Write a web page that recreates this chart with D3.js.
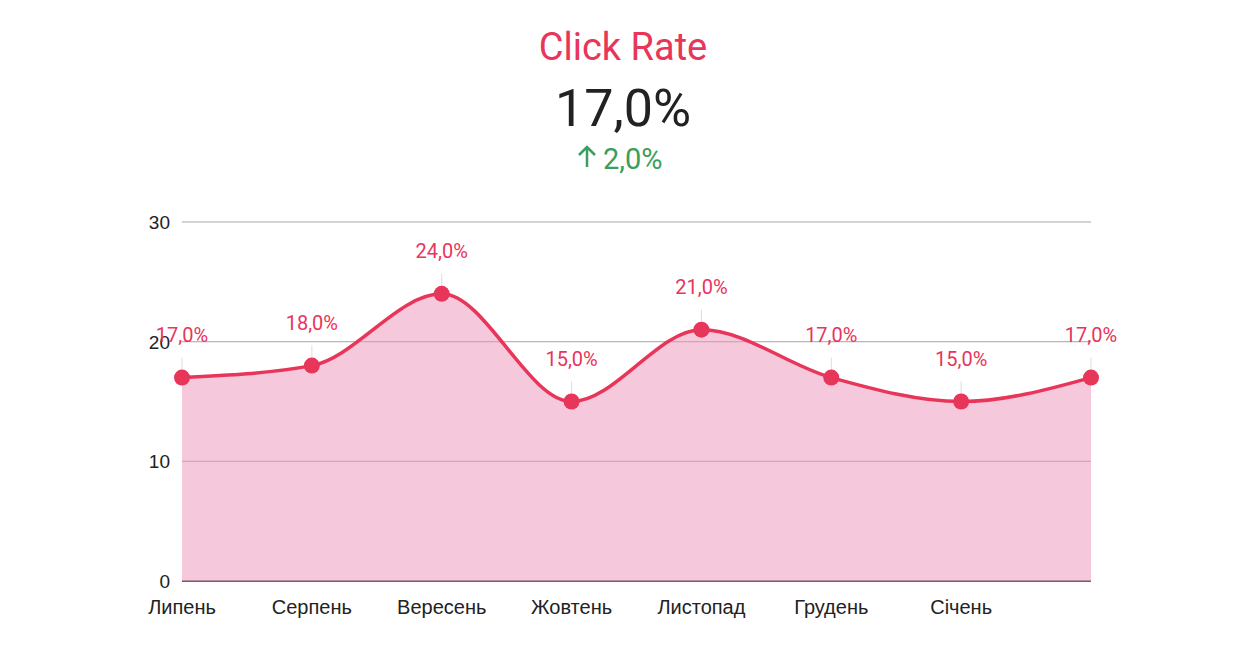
<!DOCTYPE html>
<html><head><meta charset="utf-8">
<script src="https://cdn.jsdelivr.net/npm/d3@7"></script>
<style>body{margin:0;background:#fff;font-family:Roboto,sans-serif}</style>
</head><body><svg id="c" width="1242" height="654"></svg>
<script>
const months = ["Липень","Серпень","Вересень","Жовтень","Листопад","Грудень","Січень",""];
const values = [17,18,24,15,21,17,15,17];
const yTicks = [0,10,20,30];
const svg = d3.select("#c");
const x = d3.scalePoint().domain(d3.range(values.length)).range([182,1091]);
const y = d3.scaleLinear().domain([0,30]).range([581,222]);
svg.append("text").attr("x",623).attr("y",60).attr("text-anchor","middle").attr("font-size",38).attr("fill","#e8355a").text("Click Rate");
svg.append("text").attr("x",623).attr("y",126).attr("text-anchor","middle").attr("font-size",52).attr("fill","#222").text("17,0%");
svg.append("path").attr("d","M587,167 L587,147 M579,155 L587,147 L595,155").attr("stroke","#3a9e5f").attr("stroke-width",2.5).attr("fill","none");
svg.append("text").attr("x",603).attr("y",169).attr("font-size",29).attr("fill","#3a9e5f").text("2,0%");
const g = svg.append("g");
yTicks.forEach(t=>{
  g.append("line").attr("x1",182).attr("x2",1091).attr("y1",y(t)).attr("y2",y(t)).attr("stroke",t===0?"#333":"#c8c8c8").attr("stroke-width",t===0?1.5:1.2);
  g.append("text").attr("x",170).attr("y",y(t)+7).attr("text-anchor","end").attr("font-size",19).attr("font-family","Liberation Sans, Arial").attr("fill","#222").text(t);
});
const area = d3.area().x((d,i)=>x(i)).y0(y(0)).y1(d=>y(d)).curve(d3.curveMonotoneX);
const line = d3.line().x((d,i)=>x(i)).y(d=>y(d)).curve(d3.curveMonotoneX);
g.append("path").datum(values).attr("d",area).attr("fill","#f0a3c3").attr("fill-opacity",0.6);
yTicks.slice(1).forEach(t=>{
  g.append("line").attr("x1",182).attr("x2",1091).attr("y1",y(t)).attr("y2",y(t)).attr("stroke","#b0a0a8").attr("stroke-opacity",0.5);
});
values.forEach((v,i)=>{
  g.append("line").attr("x1",x(i)).attr("x2",x(i)).attr("y1",y(v)-20).attr("y2",y(v)).attr("stroke","#ddd");
});
g.append("path").datum(values).attr("d",line).attr("fill","none").attr("stroke","#e8355a").attr("stroke-width",3.5);
values.forEach((v,i)=>{
  g.append("circle").attr("cx",x(i)).attr("cy",y(v)).attr("r",8).attr("fill","#e8355a");
  g.append("text").attr("x",x(i)).attr("y",y(v)-36).attr("text-anchor","middle").attr("font-size",20).attr("fill","#e8355a").text(v.toFixed(1).replace(".",",")+"%");
});
months.forEach((m,i)=>{
  g.append("text").attr("x",x(i)).attr("y",614).attr("text-anchor","middle").attr("font-size",20).attr("font-family","Liberation Sans, Arial").attr("fill","#222").text(m);
});
</script></body></html>
